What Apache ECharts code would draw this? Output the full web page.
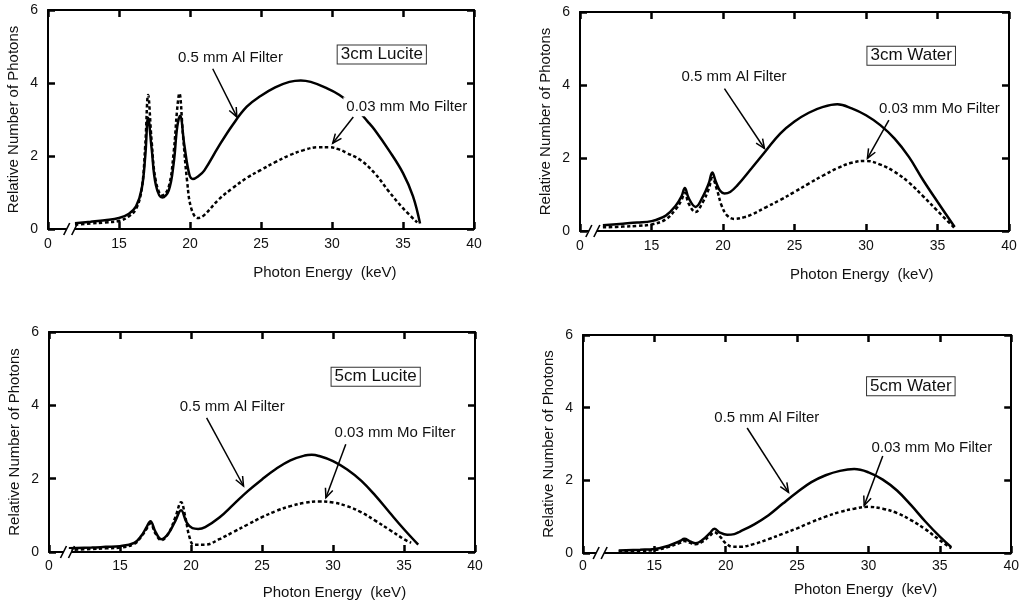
<!DOCTYPE html>
<html>
<head>
<meta charset="UTF-8">
<title>Photon spectra</title>
<script src="https://cdn.jsdelivr.net/npm/echarts@6.0.0/dist/echarts.min.js"></script>
<style>
  html, body { margin: 0; padding: 0; background: #fff; }
  #chart { width: 1022px; height: 605px; }
</style>
</head>
<body>
<div id="chart"></div>
<script>
// x ticks: the axis runs 10..40 but the first tick is labelled 0 (broken axis)
var xTicks = [10, 15, 20, 25, 30, 35, 40];
var yTicks = [0, 2, 4, 6];

// [energy keV, relative number of photons]
var lucite3Al = [[11.9,0.16],[13,0.2],[14,0.24],[15,0.3],[15.7,0.42],[16.2,0.62],[16.6,1.1],[16.85,2.0],[17.05,3.05],[17.3,2.2],[17.6,1.2],[18.05,0.86],[18.5,1.05],[18.85,1.8],[19.1,2.8],[19.3,3.1],[19.6,2.3],[19.95,1.5],[20.2,1.37],[20.6,1.45],[21,1.6],[22,2.25],[23,2.85],[24,3.35],[25,3.65],[26,3.88],[27,4.03],[27.8,4.07],[28.5,4.03],[29.5,3.88],[30.5,3.68],[31.5,3.38],[32.5,2.95],[33,2.72],[34,2.16],[35,1.53],[35.7,0.9],[36.2,0.15]];
var lucite3Mo = [[11.9,0.12],[13,0.15],[14,0.18],[15,0.22],[15.7,0.35],[16.2,0.55],[16.6,1.1],[16.85,2.3],[17.05,3.67],[17.3,2.4],[17.6,1.3],[18.05,0.92],[18.5,1.15],[18.85,2.1],[19.1,3.3],[19.25,3.72],[19.5,2.6],[19.8,1.3],[20.1,0.55],[20.55,0.3],[21,0.38],[22,0.8],[23,1.12],[24,1.4],[25,1.62],[26,1.83],[27,2.02],[28,2.16],[29,2.24],[29.8,2.24],[30.5,2.18],[31,2.09],[32,1.89],[33,1.53],[34,1.03],[35,0.57],[36,0.18]];

var water3Al = [[11.6,0.16],[13,0.2],[14,0.23],[15,0.27],[16,0.42],[16.7,0.7],[17.1,0.95],[17.33,1.18],[17.6,0.9],[18.08,0.66],[18.6,0.95],[19.0,1.3],[19.25,1.6],[19.5,1.35],[19.8,1.1],[20.1,1.03],[20.5,1.07],[21,1.25],[22,1.72],[23,2.2],[24,2.67],[25,3.0],[26,3.24],[27,3.4],[28,3.47],[29,3.36],[30,3.17],[31,2.9],[32,2.53],[33,2.03],[34,1.39],[35,0.8],[36.2,0.11]];
var water3Mo = [[11.6,0.1],[13,0.12],[14,0.14],[15,0.18],[16,0.32],[16.7,0.6],[17.1,0.85],[17.33,1.05],[17.6,0.75],[18.08,0.52],[18.6,0.8],[19.0,1.15],[19.25,1.45],[19.6,1.1],[19.9,0.7],[20.3,0.42],[20.8,0.33],[21.5,0.38],[22,0.45],[23,0.65],[24,0.85],[25,1.07],[26,1.3],[27,1.52],[28,1.72],[29,1.87],[30,1.92],[31,1.82],[32,1.62],[33,1.33],[34,0.95],[35,0.55],[36.2,0.08]];

var lucite5Al = [[11.4,0.1],[13,0.12],[14,0.14],[15,0.16],[16,0.25],[16.5,0.44],[16.9,0.7],[17.14,0.84],[17.5,0.55],[17.9,0.35],[18.4,0.5],[18.9,0.85],[19.3,1.14],[19.7,0.8],[20.1,0.65],[20.5,0.63],[21,0.68],[22,0.94],[23,1.3],[24,1.66],[25,1.98],[26,2.27],[27,2.5],[28,2.63],[28.5,2.65],[29,2.62],[30,2.48],[31,2.25],[32,1.94],[33,1.53],[34,1.07],[35,0.62],[36,0.2]];
var lucite5Mo = [[11.4,0.06],[13,0.08],[14,0.1],[15,0.12],[16,0.22],[16.5,0.42],[16.9,0.65],[17.14,0.78],[17.5,0.5],[17.9,0.32],[18.4,0.5],[18.9,0.95],[19.3,1.36],[19.6,0.95],[19.9,0.4],[20.2,0.2],[21,0.2],[22,0.35],[23,0.55],[24,0.75],[25,0.95],[26,1.12],[27,1.25],[28,1.34],[29,1.38],[30,1.35],[31,1.25],[32,1.08],[33,0.85],[34,0.6],[35,0.35],[35.5,0.25]];

var water5Al = [[12.5,0.07],[14,0.09],[15,0.11],[16,0.2],[16.8,0.33],[17.1,0.39],[17.5,0.32],[17.9,0.27],[18.4,0.37],[18.9,0.55],[19.2,0.67],[19.6,0.56],[20.1,0.5],[20.6,0.52],[21,0.59],[22,0.79],[23,1.04],[24,1.36],[25,1.67],[26,1.95],[27,2.14],[28,2.26],[29,2.31],[30,2.22],[31,2.02],[32,1.72],[33,1.31],[34,0.86],[35,0.45],[35.8,0.16]];
var water5Mo = [[12.5,0.05],[14,0.06],[15,0.08],[16,0.17],[16.8,0.28],[17.1,0.33],[17.5,0.28],[17.9,0.24],[18.4,0.32],[18.9,0.48],[19.2,0.57],[19.6,0.45],[20.0,0.27],[20.5,0.17],[21,0.17],[22,0.25],[23,0.38],[24,0.53],[25,0.68],[26,0.85],[27,1.0],[28,1.13],[29,1.22],[30,1.27],[31,1.22],[32,1.1],[33,0.9],[34,0.65],[35,0.35],[35.8,0.13]];

var titles = ['3cm Lucite', '3cm Water', '5cm Lucite', '5cm Water'];
var alName = '0.5 mm Al Filter';
var moName = '0.03 mm Mo Filter';
var xName = 'Photon Energy  (keV)';
var yName = 'Relative Number of Photons';

var alData = [lucite3Al, water3Al, lucite5Al, water5Al];
var moData = [lucite3Mo, water3Mo, lucite5Mo, water5Mo];

// layout (pixels / data-space anchors for the annotations)
var grids = [
  { left: 48, top: 10, width: 426, height: 219 },
  { left: 580, top: 12, width: 429, height: 219 },
  { left: 49, top: 332, width: 426, height: 220 },
  { left: 583, top: 335, width: 430, height: 218 }
];
var layout = [
  { box: [30.4, 4.78], al: [19.15, 4.7], alArrow: [21.6, 4.39, 23.3, 3.07], mo: [30.8, 3.35], moArrow: [31.5, 3.07, 30.05, 2.35], brk: 11.6, nameE: 29.5, nameGap: 44, labMargin: 8 },
  { box: [30.1, 4.8], al: [17.1, 4.23], alArrow: [20.1, 3.9, 22.9, 2.26], mo: [30.7, 3.36], moArrow: [31.6, 3.04, 30.1, 1.99], brk: 10.9, nameE: 29.7, nameGap: 44, labMargin: 8 },
  { box: [29.9, 4.78], al: [19.2, 3.96], alArrow: [21.1, 3.66, 23.7, 1.8], mo: [29.9, 3.25], moArrow: [30.9, 2.94, 29.5, 1.48], brk: 11.3, nameE: 30.1, nameGap: 41, labMargin: 7 },
  { box: [29.9, 4.59], al: [19.2, 3.71], alArrow: [21.5, 3.44, 24.4, 1.67], mo: [30.0, 2.9], moArrow: [31.0, 2.67, 29.7, 1.31], brk: 11.2, nameE: 29.8, nameGap: 37, labMargin: 6 }
];

var FONT = '"Liberation Sans", Arial, Helvetica, sans-serif';

var chart = echarts.init(document.getElementById('chart'), null, { renderer: 'canvas' });

var xAxes = [], yAxes = [], series = [];
grids.forEach(function (g, i) {
  var tick = { show: true, inside: true, length: 7, lineStyle: { color: '#000', width: 2.5 } };
  var line = { show: true, onZero: false, lineStyle: { color: '#000', width: 2 } };
  xAxes.push({
    type: 'value', gridIndex: i, position: 'bottom', min: 10, max: 40, interval: 5,
    axisLine: line, axisTick: tick, splitLine: { show: false },
    axisLabel: {
      show: true, margin: layout[i].labMargin, color: '#111', fontSize: 14, fontFamily: FONT,
      showMinLabel: true, showMaxLabel: true,
      formatter: function (v) { return v === xTicks[0] ? '0' : String(v); }
    }
  });
  xAxes.push({
    type: 'value', gridIndex: i, position: 'top', min: 10, max: 40, interval: 5,
    axisLine: line, axisTick: tick, splitLine: { show: false }, axisLabel: { show: false }
  });
  yAxes.push({
    type: 'value', gridIndex: i, position: 'left', min: 0, max: 6, interval: 2,
    axisLine: line, axisTick: tick, splitLine: { show: false },
    axisLabel: { show: true, margin: 10, color: '#111', fontSize: 14, fontFamily: FONT, showMinLabel: true, showMaxLabel: true },
    name: yName, nameLocation: 'middle', nameGap: 27,
    nameTextStyle: { color: '#111', fontSize: 15, fontFamily: FONT }
  });
  yAxes.push({
    type: 'value', gridIndex: i, position: 'right', min: 0, max: 6, interval: 2,
    axisLine: line, axisTick: tick, splitLine: { show: false }, axisLabel: { show: false }
  });
  series.push({
    name: alName, type: 'line', xAxisIndex: 2 * i, yAxisIndex: 2 * i,
    data: alData[i], smooth: 0.4, showSymbol: false, silent: true,
    lineStyle: { color: '#000', width: 2.5 }, z: 3
  });
  series.push({
    name: moName, type: 'line', xAxisIndex: 2 * i, yAxisIndex: 2 * i,
    data: moData[i], smooth: 0.4, showSymbol: false, silent: true,
    lineStyle: { color: '#000', width: 2.5, type: [3.5, 2.5] }, z: 3
  });
});

chart.setOption({
  animation: false,
  backgroundColor: '#fff',
  grid: grids.map(function (g) { return Object.assign({ containLabel: false }, g); }),
  xAxis: xAxes,
  yAxis: yAxes,
  series: series
});

function px(i, x, y) {
  return chart.convertToPixel({ gridIndex: i }, [x, y]);
}

function arrow(p1, p2) {
  var dx = p2[0] - p1[0], dy = p2[1] - p1[1];
  var len = Math.sqrt(dx * dx + dy * dy);
  var ux = dx / len, uy = dy / len;
  var h = 10, a = 0.4;
  var c = Math.cos(a), s = Math.sin(a);
  var l1 = [p2[0] - h * (ux * c - uy * s), p2[1] - h * (uy * c + ux * s)];
  var l2 = [p2[0] - h * (ux * c + uy * s), p2[1] - h * (uy * c - ux * s)];
  return [
    { type: 'line', z: 100, shape: { x1: p1[0], y1: p1[1], x2: p2[0], y2: p2[1] }, style: { stroke: '#000', lineWidth: 1.5 } },
    { type: 'polyline', z: 100, shape: { points: [l1, p2, l2] }, style: { stroke: '#000', lineWidth: 1.5, fill: null } }
  ];
}

var gfx = [];
layout.forEach(function (L, i) {
  var b = px(i, L.box[0], L.box[1]);
  gfx.push({
    type: 'text', z: 100, x: b[0], y: b[1],
    style: {
      text: titles[i], font: '17px ' + FONT, fill: '#111',
      align: 'left', verticalAlign: 'middle',
      borderColor: '#333', borderWidth: 1, padding: [1, 3, 0, 3], backgroundColor: '#fff'
    }
  });
  var a = px(i, L.al[0], L.al[1]);
  gfx.push({
    type: 'text', z: 100, x: a[0], y: a[1],
    style: { text: alName, font: '15px ' + FONT, fill: '#111', align: 'left', verticalAlign: 'middle' }
  });
  var m = px(i, L.mo[0], L.mo[1]);
  gfx.push({
    type: 'text', z: 90, x: m[0], y: m[1],
    style: { text: moName, font: '15px ' + FONT, fill: '#111', align: 'left', verticalAlign: 'middle', backgroundColor: '#fff', padding: [2, 3] }
  });
  gfx = gfx.concat(arrow(px(i, L.alArrow[0], L.alArrow[1]), px(i, L.alArrow[2], L.alArrow[3])));
  gfx = gfx.concat(arrow(px(i, L.moArrow[0], L.moArrow[1]), px(i, L.moArrow[2], L.moArrow[3])));

  // x axis name
  var n = px(i, L.nameE, 0);
  gfx.push({
    type: 'text', z: 100, x: n[0], y: n[1] + L.nameGap,
    style: { text: xName, font: '15px ' + FONT, fill: '#111', align: 'center', verticalAlign: 'middle' }
  });

  // axis break mark
  var k = px(i, L.brk, 0);
  gfx.push({ type: 'rect', z: 100, shape: { x: k[0] - 4, y: k[1] - 3, width: 8, height: 6 }, style: { fill: '#fff' } });
  gfx.push({ type: 'line', z: 101, shape: { x1: k[0] - 7, y1: k[1] + 6, x2: k[0] - 1, y2: k[1] - 6 }, style: { stroke: '#000', lineWidth: 1.6 } });
  gfx.push({ type: 'line', z: 101, shape: { x1: k[0] + 1, y1: k[1] + 6, x2: k[0] + 7, y2: k[1] - 6 }, style: { stroke: '#000', lineWidth: 1.6 } });
});

chart.setOption({ graphic: gfx });
</script>
</body>
</html>
